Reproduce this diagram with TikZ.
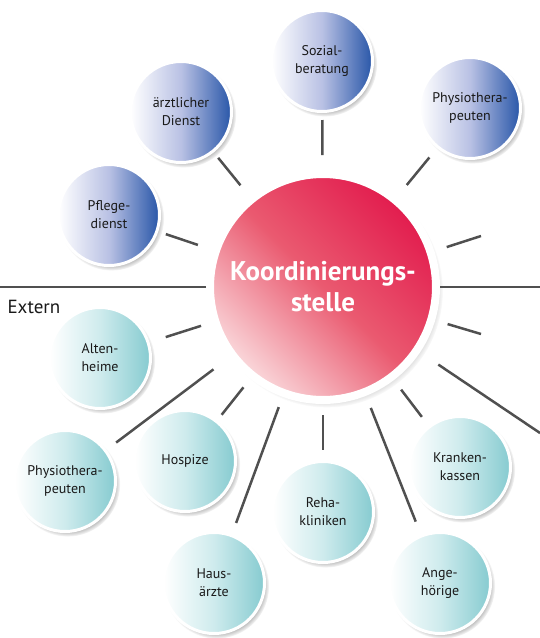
\documentclass[tikz,border=0pt]{standalone}
\usepackage{fontspec}
\setsansfont{PT Sans}
\usepackage{tikz}
\usetikzlibrary{shadows}
\definecolor{linkgray}{RGB}{80,80,80}
\definecolor{textgray}{RGB}{25,25,25}
\definecolor{innenblue}{RGB}{40,86,168}
\definecolor{innenmid}{RGB}{185,193,228}
\definecolor{aussenteal}{RGB}{134,203,208}
\definecolor{aussenmid}{RGB}{206,235,237}
\definecolor{koordred}{RGB}{226,28,78}
\definecolor{koordmid}{RGB}{234,90,112}
\definecolor{koordpink}{RGB}{250,216,219}
\tikzset{
  sat/.style={
    circle, draw=white, line width=3pt, minimum size=101pt, inner sep=0pt,
    align=center, text=textgray, font=\sffamily\fontsize{14}{18}\selectfont,
    circular drop shadow={shadow xshift=2.5pt, shadow yshift=-3pt, shadow scale=1.04, opacity=0.75}
  },
  innen/.style={sat, left color=white, right color=innenblue, middle color=innenmid},
  aussen/.style={sat, left color=white, right color=aussenteal, middle color=aussenmid},
  zentrale/.style={
    circle, draw=white, line width=8pt, minimum size=226pt, inner sep=0pt,
    align=center, text=white, font=\sffamily\bfseries\fontsize{27}{31}\selectfont,
    bottom color=koordpink, top color=koordred, middle color=koordmid, shading angle=-45,
    circular drop shadow={shadow xshift=3.5pt, shadow yshift=-4pt, shadow scale=1.03, opacity=0.7}
  },
  link/.style={draw=linkgray, line width=2.5pt}
}
\begin{document}
\begin{tikzpicture}[x=1pt, y=-1pt]
  \useasboundingbox (0,0) rectangle (540,638);

  % Ends of the free lines
  \coordinate (sepW) at (0,287);
  \coordinate (sepE) at (540,287);
  \coordinate (rayA) at (481,236);
  \coordinate (rayB) at (481,334);
  \coordinate (rayC) at (540,433);

  \node[zentrale] (koord) at (323,287) {Koordinierungs-\\stelle};

  % Intern
  \node[innen] (pflege) at (109,215) {Pflege-\\dienst};
  \node[innen] (aerztlich) at (181,112) {ärztlicher\\Dienst};
  \node[innen] (sozial) at (322,61) {Sozial-\\beratung};
  \node[innen] (physioIn) at (470,108) {Physiothera-\\peuten};

  % Extern
  \node[anchor=base west, text=textgray, font=\sffamily\fontsize{19}{21}\selectfont] (externlabel) at (4,313) {Extern};
  \node[aussen] (altenheime) at (100,358) {Alten-\\heime};
  \node[aussen] (physioEx) at (65,481) {Physiothera-\\peuten};
  \node[aussen] (hospize) at (185,461) {Hospize};
  \node[aussen] (hausaerzte) at (214,583) {Haus-\\ärzte};
  \node[aussen] (reha) at (323,512) {Reha-\\kliniken};
  \node[aussen] (angehoerige) at (440,583) {Ange-\\hörige};
  \node[aussen] (krankenkassen) at (460,467) {Kranken-\\kassen};

  % Connectors
  \foreach \n/\a/\b in {
  sozial/15/7, physioIn/15/12, aerztlich/14/7, pflege/15/8,
  altenheime/11/17, physioEx/20/12, hospize/11/7, hausaerzte/11/12,
  reha/11/10, angehoerige/13/14, krankenkassen/12/11,
  rayA/13/0, rayB/13/0, rayC/22/0, sepW/0/0, sepE/0/0
  } {
    \draw[link, shorten <=\a pt, shorten >=\b pt] (koord) -- (\n);
  }

\end{tikzpicture}
\end{document}
